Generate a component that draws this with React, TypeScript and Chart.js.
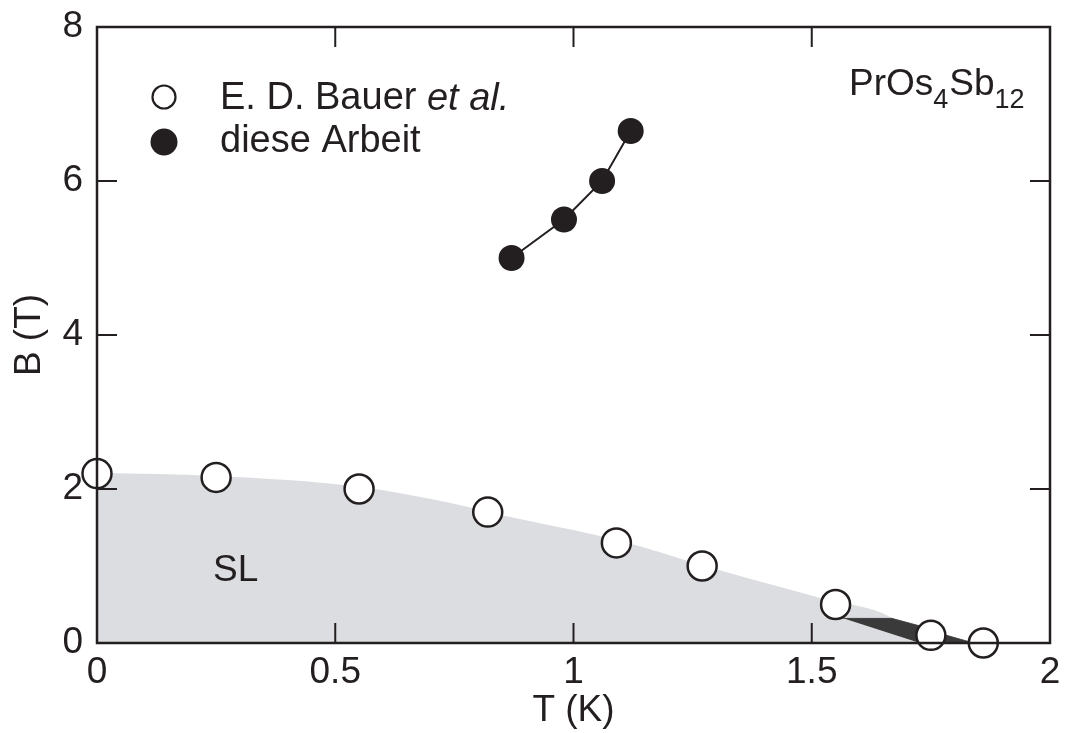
import { useEffect, useRef } from 'react';
import { Chart, registerables } from 'chart.js';

Chart.register(...registerables);

const INK = '#231f20';
const FONT = '"Liberation Sans", Arial, Helvetica, sans-serif';
const FONT_SIZE = 37;

// E. D. Bauer et al. (open circles)
const bauerT = [0, 0.25, 0.55, 0.82, 1.09, 1.27, 1.55, 1.75, 1.86];
const bauerB = [2.2, 2.15, 2.0, 1.7, 1.3, 1.0, 0.5, 0.1, 0.0];

// diese Arbeit (filled circles)
const arbeitT = [0.87, 0.98, 1.06, 1.12];
const arbeitB = [5.0, 5.5, 6.0, 6.65];

// upper boundary of the SL phase (grey region)
const slT = [0, 0.25, 0.55, 0.74, 0.85, 1.09, 1.27, 1.52, 1.67, 1.73];
const slB = [2.21, 2.17, 2.03, 1.82, 1.66, 1.34, 1.01, 0.58, 0.32, 0];

// outline of the dark wedge near the transition
const wedgeT = [1.566, 1.668, 1.734, 1.783, 1.84, 1.727];
const wedgeB = [0.32, 0.32, 0.21, 0.1, 0.0, 0.0];

const xTicks = [0, 0.5, 1, 1.5, 2];
const yTicks = [0, 2, 4, 6, 8];

const legendLabels = ['E. D. Bauer ', 'et al.', 'diese Arbeit'];

const pts = (xs: number[], ys: number[]) => xs.map((x, i) => ({ x, y: ys[i] }));

// frame, inward tick marks, legend and text annotations
const decorations = {
  id: 'decorations',
  afterDatasetsDraw(chart: any) {
    const { ctx, chartArea: a, scales } = chart;
    const xs = scales.x;
    const ys = scales.y;
    ctx.save();
    ctx.strokeStyle = INK;
    ctx.lineCap = 'butt';
    ctx.lineWidth = 2;
    const tl = 20;
    for (const v of xTicks) {
      if (v === xTicks[0] || v === xTicks[xTicks.length - 1]) continue;
      const px = xs.getPixelForValue(v);
      ctx.beginPath();
      ctx.moveTo(px, a.bottom);
      ctx.lineTo(px, a.bottom - tl);
      ctx.moveTo(px, a.top);
      ctx.lineTo(px, a.top + tl);
      ctx.stroke();
    }
    for (const v of yTicks) {
      if (v === yTicks[0] || v === yTicks[yTicks.length - 1]) continue;
      const py = ys.getPixelForValue(v);
      ctx.beginPath();
      ctx.moveTo(a.left, py);
      ctx.lineTo(a.left + tl, py);
      ctx.moveTo(a.right, py);
      ctx.lineTo(a.right - tl, py);
      ctx.stroke();
    }
    ctx.lineWidth = 2.5;
    ctx.strokeRect(a.left, a.top, a.right - a.left, a.bottom - a.top);
    ctx.restore();
  },
  afterDraw(chart: any) {
    const { ctx, chartArea: a } = chart;
    ctx.save();
    ctx.fillStyle = INK;
    ctx.strokeStyle = INK;
    ctx.textBaseline = 'middle';
    ctx.textAlign = 'left';

    // legend
    const mx = a.left + 67;
    const tx = a.left + 123;
    const y1 = a.top + 72;
    const y2 = a.top + 115;
    ctx.lineWidth = 2.2;
    ctx.beginPath();
    ctx.arc(mx, y1 - 2, 11.5, 0, Math.PI * 2);
    ctx.fillStyle = '#ffffff';
    ctx.fill();
    ctx.stroke();
    ctx.fillStyle = INK;
    ctx.beginPath();
    ctx.arc(mx, y2, 13.5, 0, Math.PI * 2);
    ctx.fill();

    const legendFont = `${FONT_SIZE + 1}px ${FONT}`;
    ctx.font = legendFont;
    ctx.fillText(legendLabels[0], tx, y1);
    const w0 = ctx.measureText(legendLabels[0]).width;
    ctx.font = `italic ${FONT_SIZE + 1}px ${FONT}`;
    ctx.fillText(legendLabels[1], tx + w0, y1);
    ctx.font = legendFont;
    ctx.fillText(legendLabels[2], tx, y2);

    // compound name with subscripts
    ctx.textBaseline = 'alphabetic';
    const big = `${FONT_SIZE}px ${FONT}`;
    const small = `${Math.round(FONT_SIZE * 0.72)}px ${FONT}`;
    const parts: [string, boolean][] = [['PrOs', false], ['4', true], ['Sb', false], ['12', true]];
    let x = a.left + 752;
    const base = a.top + 68;
    for (const [s, sub] of parts) {
      ctx.font = sub ? small : big;
      ctx.fillText(s, x, sub ? base + 13 : base);
      x += ctx.measureText(s).width + (sub ? 1 : 0);
    }

    // phase label
    ctx.font = big;
    ctx.textBaseline = 'middle';
    ctx.fillText('SL', a.left + 116, a.top + 544);
    ctx.restore();
  },
};

export default function App() {
  const ref = useRef<HTMLCanvasElement>(null);

  useEffect(() => {
    document.body.style.margin = '0';
    if (!ref.current) return;
    const chart = new Chart(ref.current, {
      type: 'line',
      data: {
        datasets: [
          {
            label: 'diese Arbeit',
            data: pts(arbeitT, arbeitB),
            order: 0,
            borderColor: INK,
            borderWidth: 2,
            backgroundColor: INK,
            pointBackgroundColor: INK,
            pointBorderColor: INK,
            pointRadius: 13,
            pointBorderWidth: 0,
            fill: false,
            clip: false as any,
          },
          {
            label: 'E. D. Bauer et al.',
            data: pts(bauerT, bauerB),
            order: 1,
            showLine: false,
            pointBackgroundColor: '#ffffff',
            pointBorderColor: INK,
            pointBorderWidth: 2.5,
            pointRadius: 14.5,
            fill: false,
            clip: false as any,
          },
          {
            label: 'wedge',
            data: pts(wedgeT, wedgeB),
            order: 2,
            borderWidth: 0.8,
            borderColor: '#3a3a3a',
            backgroundColor: '#3a3a3a',
            pointRadius: 0,
            fill: 'shape' as any,
          },
          {
            label: 'SL',
            data: pts(slT, slB),
            order: 3,
            borderWidth: 0,
            borderColor: 'rgba(0,0,0,0)',
            backgroundColor: '#dcdde0',
            pointRadius: 0,
            cubicInterpolationMode: 'monotone',
            fill: 'origin',
          },
        ],
      },
      options: {
        animation: false,
        responsive: false,
        events: [],
        layout: { padding: { top: 27, right: 17, left: 0, bottom: 0 } },
        plugins: {
          legend: { display: false },
          tooltip: { enabled: false },
        },
        scales: {
          x: {
            type: 'linear',
            min: 0,
            max: 2,
            position: 'bottom',
            afterBuildTicks: (s: any) => {
              s.ticks = xTicks.map((value) => ({ value }));
            },
            afterFit: (s: any) => {
              s.height = 90;
              s.paddingLeft = 0;
              s.paddingRight = 0;
            },
            grid: { display: false, drawTicks: false },
            border: { display: false },
            ticks: {
              color: INK,
              font: { family: FONT, size: FONT_SIZE },
              padding: 8,
              maxRotation: 0,
              autoSkip: false,
              callback: (v: any) => String(v),
            },
            title: {
              display: true,
              text: 'T (K)',
              color: INK,
              font: { family: FONT, size: FONT_SIZE },
              padding: { top: 0, bottom: 0 },
            },
          },
          y: {
            type: 'linear',
            min: 0,
            max: 8,
            afterBuildTicks: (s: any) => {
              s.ticks = yTicks.map((value) => ({ value }));
            },
            afterFit: (s: any) => {
              s.width = 97;
              s.paddingTop = 0;
              s.paddingBottom = 0;
            },
            grid: { display: false, drawTicks: false },
            border: { display: false },
            ticks: {
              color: INK,
              font: { family: FONT, size: FONT_SIZE },
              padding: 14,
              autoSkip: false,
              callback: (v: any) => String(v),
            },
            title: {
              display: true,
              text: 'B (T)',
              color: INK,
              font: { family: FONT, size: FONT_SIZE },
              padding: { top: 8, bottom: 0 },
            },
          },
        },
      },
      plugins: [decorations],
    });
    return () => chart.destroy();
  }, []);

  return (
    <div style={{ width: 1067, height: 733 }}>
      <canvas ref={ref} width={1067} height={733} />
    </div>
  );
}
